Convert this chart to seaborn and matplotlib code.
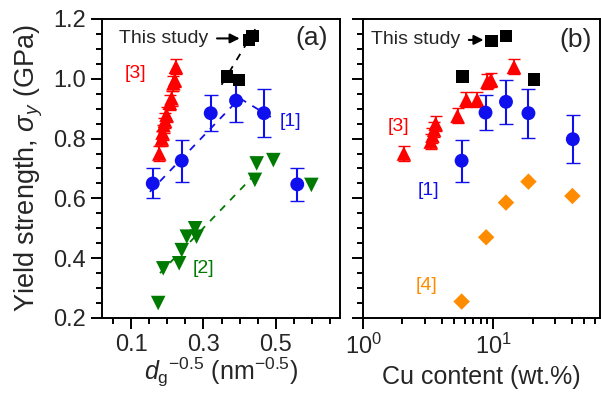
import numpy as np
import matplotlib
matplotlib.use("Agg")
import matplotlib.pyplot as plt
import seaborn as sns
from matplotlib.ticker import MultipleLocator

# ---- panel (a): yield strength vs d_g^-0.5 ----
dg_study = [0.365, 0.398, 0.425, 0.435]
ys_study_a = [1.007, 0.996, 1.13, 1.143]
fit_study_x = [0.35, 0.45]
fit_study_y = [0.98, 1.18]

dg_ref1 = [0.16, 0.24, 0.32, 0.39, 0.467, 0.559]
ys_ref1_a = [0.65, 0.726, 0.885, 0.927, 0.885, 0.647]
err_ref1_a = [0.05, 0.07, 0.06, 0.07, 0.08, 0.056]
line_ref1_x = [0.152, 0.40, 0.50]
line_ref1_y = [0.622, 0.935, 0.862]

dg_ref2 = [0.175, 0.189, 0.233, 0.24, 0.254, 0.277, 0.281, 0.442, 0.447, 0.493, 0.598]
ys_ref2 = [0.25, 0.366, 0.383, 0.427, 0.472, 0.50, 0.472, 0.662, 0.717, 0.728, 0.645]
fit_ref2_x = [0.18, 0.45]
fit_ref2_y = [0.35, 0.69]

dg_ref3 = [0.178, 0.185, 0.187, 0.19, 0.194, 0.198, 0.207, 0.212, 0.217, 0.221, 0.224]
ys_ref3 = [0.75, 0.80, 0.82, 0.845, 0.86, 0.88, 0.92, 0.935, 0.985, 0.996, 1.04]
err_ref3 = [0.025] * len(ys_ref3)

# ---- panel (b): yield strength vs Cu content ----
cu_study = [5.8, 20.6, 9.7, 12.5]
ys_study_b = [1.007, 0.998, 1.127, 1.143]

cu_ref1 = [5.7, 8.7, 12.5, 18.6, 40.8]
ys_ref1_b = [0.726, 0.887, 0.923, 0.885, 0.798]
err_ref1_b = [0.07, 0.058, 0.073, 0.082, 0.08]

cu_ref3 = [2.05, 3.3, 3.4, 3.5, 3.6, 5.3, 6.2, 7.5, 9.0, 9.6, 14.4]
ys_ref3_b = [0.75, 0.79, 0.81, 0.83, 0.85, 0.876, 0.93, 0.93, 0.99, 0.996, 1.04]

cu_ref4 = [5.7, 8.8, 12.5, 18.6, 40.5]
ys_ref4 = [0.255, 0.47, 0.586, 0.656, 0.608]

RED, BLUE, GREEN, ORANGE = "#ff0000", "#1010ee", "#007a00", "#ff8c00"

sns.set_style("ticks")
plt.rcParams["font.family"] = ["Liberation Sans", "DejaVu Sans"]
plt.rcParams["mathtext.fontset"] = "custom"
plt.rcParams["mathtext.rm"] = "Liberation Sans"
plt.rcParams["mathtext.it"] = "Liberation Sans:italic"
plt.rcParams["mathtext.bf"] = "Liberation Sans:bold"

fig = plt.figure(figsize=(6.01, 3.94), dpi=100)
ax1 = fig.add_axes([0.1692, 0.1929, 0.3965, 0.7589])
ax2 = fig.add_axes([0.6045, 0.1929, 0.3938, 0.7589])

# panel (a)
ax1.plot(fit_study_x, fit_study_y, ls=(0, (4, 4)), color="k", lw=1.3)
ax1.plot(line_ref1_x, line_ref1_y, ls=(0, (4, 4)), color=BLUE, lw=1.3)
ax1.plot(fit_ref2_x, fit_ref2_y, ls=(0, (4, 4)), color=GREEN, lw=1.3)
ax1.errorbar(dg_ref3, ys_ref3, yerr=err_ref3, fmt="none", ecolor=RED, capsize=4, lw=1.3)
ax1.errorbar(dg_ref1, ys_ref1_a, yerr=err_ref1_a, fmt="none", ecolor=BLUE, capsize=5, lw=1.5)
sns.scatterplot(x=dg_ref3, y=ys_ref3, ax=ax1, marker="^", color=RED, s=110, edgecolor="none", zorder=3)
sns.scatterplot(x=dg_ref1, y=ys_ref1_a, ax=ax1, marker="o", color=BLUE, s=100, edgecolor="none", zorder=3)
sns.scatterplot(x=dg_ref2, y=ys_ref2, ax=ax1, marker="v", color=GREEN, s=110, edgecolor="none", zorder=3)
sns.scatterplot(x=dg_study, y=ys_study_a, ax=ax1, marker="s", color="k", s=80, edgecolor="none", zorder=4)

ax1.annotate("This study", xy=(0.40, 1.135), xytext=(0.313, 1.135), ha="right", va="center",
             fontsize=14, arrowprops=dict(arrowstyle="-|>", color="k", lw=1.5, shrinkA=4, shrinkB=0))
ax1.text(0.60, 1.135, "(a)", ha="center", va="center", fontsize=19)
ax1.text(0.111, 1.018, "[3]", color=RED, ha="center", va="center", fontsize=14)
ax1.text(0.539, 0.857, "[1]", color=BLUE, ha="center", va="center", fontsize=14)
ax1.text(0.299, 0.366, "[2]", color=GREEN, ha="center", va="center", fontsize=14)

ax1.set_xlim(0.019, 0.677)
ax1.set_ylim(0.2, 1.2)
ax1.set_xticks([0.1, 0.3, 0.5])
ax1.xaxis.set_minor_locator(MultipleLocator(0.05))
ax1.yaxis.set_major_locator(MultipleLocator(0.2))
ax1.yaxis.set_minor_locator(MultipleLocator(0.05))
ax1.set_xlabel(r"$d_{\rm g}{}^{-0.5}$ (nm$^{-0.5}$)", fontsize=18, labelpad=0)
ax1.set_ylabel(r"Yield strength, $\sigma_y$ (GPa)", fontsize=19.5, labelpad=6)

# panel (b)
ax2.errorbar(cu_ref1, ys_ref1_b, yerr=err_ref1_b, fmt="none", ecolor=BLUE, capsize=5, lw=1.5)
ax2.errorbar(cu_ref3, ys_ref3_b, yerr=[0.025] * len(cu_ref3), fmt="none", ecolor=RED, capsize=4, lw=1.3)
sns.scatterplot(x=cu_ref3, y=ys_ref3_b, ax=ax2, marker="^", color=RED, s=110, edgecolor="none", zorder=3)
sns.scatterplot(x=cu_ref1, y=ys_ref1_b, ax=ax2, marker="o", color=BLUE, s=100, edgecolor="none", zorder=3)
sns.scatterplot(x=cu_ref4, y=ys_ref4, ax=ax2, marker="D", color=ORANGE, s=70, edgecolor="none", zorder=3)
sns.scatterplot(x=cu_study, y=ys_study_b, ax=ax2, marker="s", color="k", s=80, edgecolor="none", zorder=4)

ax2.annotate("This study", xy=(8.4, 1.13), xytext=(5.54, 1.13), ha="right", va="center",
             fontsize=14, arrowprops=dict(arrowstyle="-|>", color="k", lw=1.5, shrinkA=4, shrinkB=0))
ax2.text(43, 1.13, "(b)", ha="center", va="center", fontsize=19)
ax2.text(1.86, 0.842, "[3]", color=RED, ha="center", va="center", fontsize=14)
ax2.text(3.16, 0.625, "[1]", color=BLUE, ha="center", va="center", fontsize=14)
ax2.text(3.04, 0.31, "[4]", color=ORANGE, ha="center", va="center", fontsize=14)

ax2.set_xscale("log")
ax2.set_xlim(1, 66)
ax2.set_ylim(0.2, 1.2)
ax2.yaxis.set_major_locator(MultipleLocator(0.2))
ax2.yaxis.set_minor_locator(MultipleLocator(0.05))
ax2.tick_params(axis="y", labelleft=False)
ax2.set_xlabel("Cu content (wt.%)", fontsize=18)
ax2.set_ylabel("")

for ax in (ax1, ax2):
    for sp in ax.spines.values():
        sp.set_visible(True)
        sp.set_linewidth(1.4)
        sp.set_color("k")
    ax.tick_params(which="major", direction="out", length=8, width=1.4, labelsize=17, color="k")
    ax.tick_params(which="minor", direction="out", length=4.5, width=1.4, color="k")
    ax.tick_params(top=False, right=False, which="both")

fig.savefig("out.png", dpi=100)
